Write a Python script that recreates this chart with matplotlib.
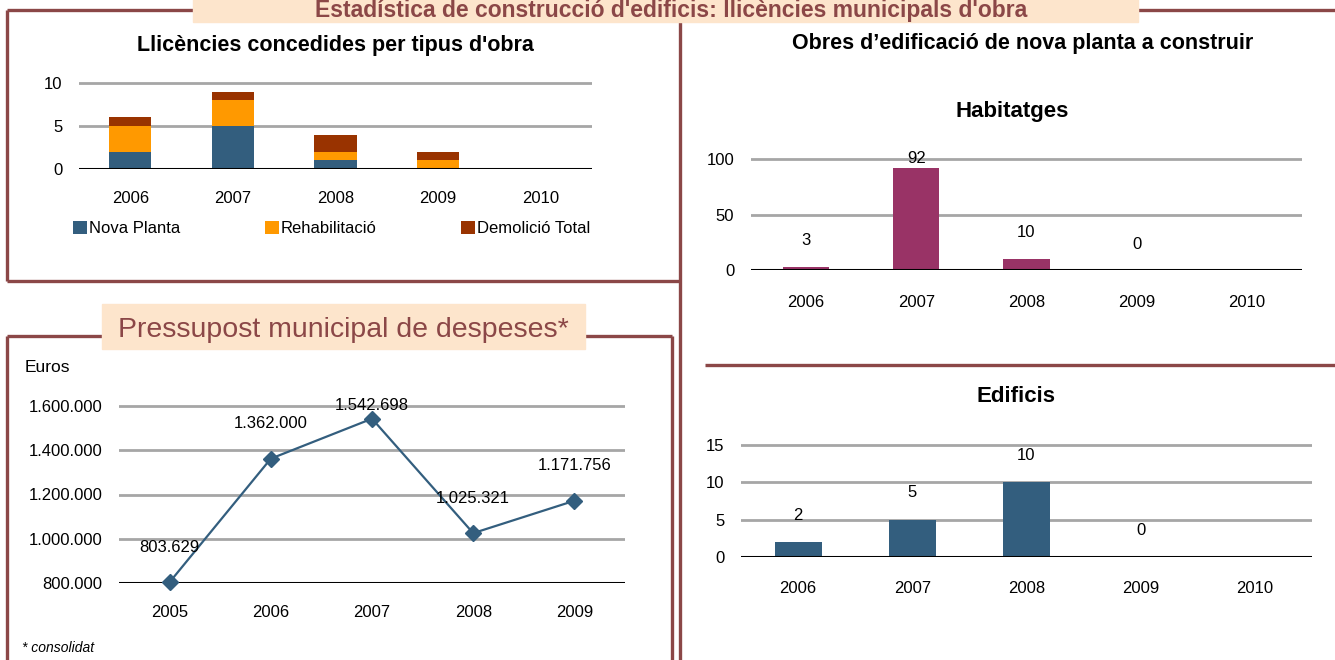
import matplotlib
matplotlib.use("Agg")
import matplotlib.pyplot as plt
from matplotlib.ticker import FuncFormatter

# data
years_lic = ["2006", "2007", "2008", "2009", "2010"]
nova_planta = [2, 5, 1, 0, 0]
rehabilitacio = [3, 3, 1, 1, 0]
demolicio = [1, 1, 2, 1, 0]

years_obres = ["2006", "2007", "2008", "2009", "2010"]
habitatges = [3, 92, 10, 0, None]
edificis = [2, 5, 10, 0, None]

years_press = ["2005", "2006", "2007", "2008", "2009"]
pressupost = [803629, 1362000, 1542698, 1025321, 1171756]

W, H = 1335, 660
BROWN = "#8B4747"
PEACH = "#FDE5CC"
BLUE = "#335E7E"
ORANGE = "#FF9900"
RUST = "#993300"
PLUM = "#993366"
GRID = "#A6A6A6"
SANS = ["Liberation Sans", "DejaVu Sans"]
plt.rcParams["font.family"] = SANS

fig = plt.figure(figsize=(W / 100, H / 100), dpi=100)


def px_axes(x0, x1, y_lo, px_per_unit, lo, hi):
    """Axes placed in pixel coords: y_lo is the pixel row of value lo."""
    top = y_lo - (hi - lo) * px_per_unit
    ax = fig.add_axes([x0 / W, 1 - y_lo / H, (x1 - x0) / W, (y_lo - top) / H])
    ax.set_ylim(lo, hi)
    for s in ax.spines.values():
        s.set_visible(False)
    ax.tick_params(length=0, labelsize=12)
    ax.grid(axis="y", color=GRID, lw=2)
    ax.set_axisbelow(True)
    return ax


def ftext(x, y, s, **kw):
    fig.text(x / W, 1 - y / H, s, **kw)


# background frames
bg = fig.add_axes([0, 0, 1, 1])
bg.set_xlim(0, W)
bg.set_ylim(H, 0)
bg.axis("off")
frame = dict(color=BROWN, lw=2.4, solid_capstyle="butt")
bg.plot([7, 193], [10, 10], **frame)
bg.plot([1138, W], [10, 10], **frame)
bg.plot([7, 7], [10, 281], **frame)
bg.plot([7, 680], [281, 281], **frame)
bg.plot([680, 680], [10, H], **frame)
bg.plot([7, 102], [336, 336], **frame)
bg.plot([585, 672], [336, 336], **frame)
bg.plot([7, 7], [336, H], **frame)
bg.plot([672, 672], [336, H], **frame)
bg.plot([705, W], [365, 365], **frame)
bg.add_patch(plt.Rectangle((193, -2), 945, 24, color=PEACH, zorder=3))
bg.add_patch(plt.Rectangle((102, 304), 483, 45, color=PEACH, zorder=3))
bg.text(671, 17.5, "Estadística de construcció d'edificis: llicències municipals d'obra",
        ha="center", va="baseline", fontsize=16.5, color=BROWN, fontweight="bold", zorder=4)
bg.text(343, 337, "Pressupost municipal de despeses*", ha="center", va="baseline",
        fontsize=20.5, color=BROWN, zorder=4)

# chart 1: llicencies stacked bars
ax1 = px_axes(79, 592, 169, 8.6, 0, 10.5)
x = range(len(years_lic))
bottom2 = [a + b for a, b in zip(nova_planta, rehabilitacio)]
ax1.bar(x, nova_planta, width=0.41, color=BLUE, label="Nova Planta")
ax1.bar(x, rehabilitacio, width=0.41, bottom=nova_planta, color=ORANGE, label="Rehabilitació")
ax1.bar(x, demolicio, width=0.41, bottom=bottom2, color=RUST, label="Demolició Total")
ax1.axhline(0, color="black", lw=2.2)
ax1.set_xlim(-0.5, len(years_lic) - 0.5)
ax1.set_yticks([0, 5, 10])
ax1.set_xticks(list(x), years_lic)
ax1.tick_params(axis="x", pad=16)
ax1.tick_params(axis="y", pad=12)
ax1.legend(loc="lower left", bbox_to_anchor=(73 / W, 1 - 236 / H, 517 / W, 18 / H),
           bbox_transform=fig.transFigure, ncol=3, mode="expand", frameon=False,
           handlelength=0.85, handleheight=0.85, handletextpad=0.1, borderpad=0,
           borderaxespad=0, fontsize=12)
ftext(335, 45, "Llicències concedides per tipus d'obra", ha="center", va="center",
      fontsize=15.5, fontweight="bold")

# chart 2: habitatges
ftext(1023, 44, "Obres d\u2019edificació de nova planta a construir", ha="center",
      va="center", fontsize=15.5, fontweight="bold")
ax2 = px_axes(751, 1302, 270, 1.11, 0, 105)
xs = range(len(years_obres))
hab_vals = [v if v is not None else 0 for v in habitatges]
ax2.bar(xs, hab_vals, width=0.42, color=PLUM)
ax2.axhline(0, color="black", lw=2.2)
ax2.set_xlim(-0.5, len(years_obres) - 0.5)
ax2.set_yticks([0, 50, 100])
ax2.set_xticks(list(xs), years_obres)
ax2.tick_params(axis="x", pad=18)
ax2.tick_params(axis="y", pad=12)
for i, v in enumerate(habitatges):
    if v is not None:
        ax2.text(i, min(v + 23.4, 100.8), str(v), ha="center", va="center", fontsize=12)
ftext(1012, 112, "Habitatges", ha="center", va="center", fontsize=16, fontweight="bold")

# chart 3: edificis
ax3 = px_axes(741, 1312, 557, 7.467, 0, 15.75)
edi_vals = [v if v is not None else 0 for v in edificis]
ax3.bar(xs, edi_vals, width=0.41, color=BLUE)
ax3.axhline(0, color="black", lw=2.2)
ax3.set_xlim(-0.5, len(years_obres) - 0.5)
ax3.set_yticks([0, 5, 10, 15])
ax3.set_xticks(list(xs), years_obres)
ax3.tick_params(axis="x", pad=17)
ax3.tick_params(axis="y", pad=12)
for i, v in enumerate(edificis):
    if v is not None:
        ax3.text(i, v + 3.6, str(v), ha="center", va="center", fontsize=12)
ftext(1016, 396, "Edificis", ha="center", va="center", fontsize=16, fontweight="bold")

# chart 4: pressupost line
def dots(v, pos=None):
    return f"{v:,.0f}".replace(",", ".")

ax4 = px_axes(119, 625, 583, 177 / 800000, 800000, 1640000)
xp = range(len(years_press))
ax4.plot(xp, pressupost, color=BLUE, lw=1.6, marker="D", markersize=8, clip_on=False, zorder=3)
ax4.axhline(800000, color="black", lw=2.2)
ax4.set_xlim(-0.5, len(years_press) - 0.5)
ax4.set_yticks([800000, 1000000, 1200000, 1400000, 1600000])
ax4.yaxis.set_major_formatter(FuncFormatter(dots))
ax4.set_xticks(list(xp), years_press)
ax4.tick_params(axis="x", pad=16)
ax4.tick_params(axis="y", pad=12)
for i, v in enumerate(pressupost):
    ax4.text(i, min(v + 158000, 1600000), dots(v), ha="center", va="center", fontsize=12,
             zorder=4)
ftext(25, 368, "Euros", ha="left", va="center", fontsize=12.5)
ftext(22, 648, "* consolidat", ha="left", va="center", fontsize=10, style="italic")

fig.savefig("out.png", dpi=100)
